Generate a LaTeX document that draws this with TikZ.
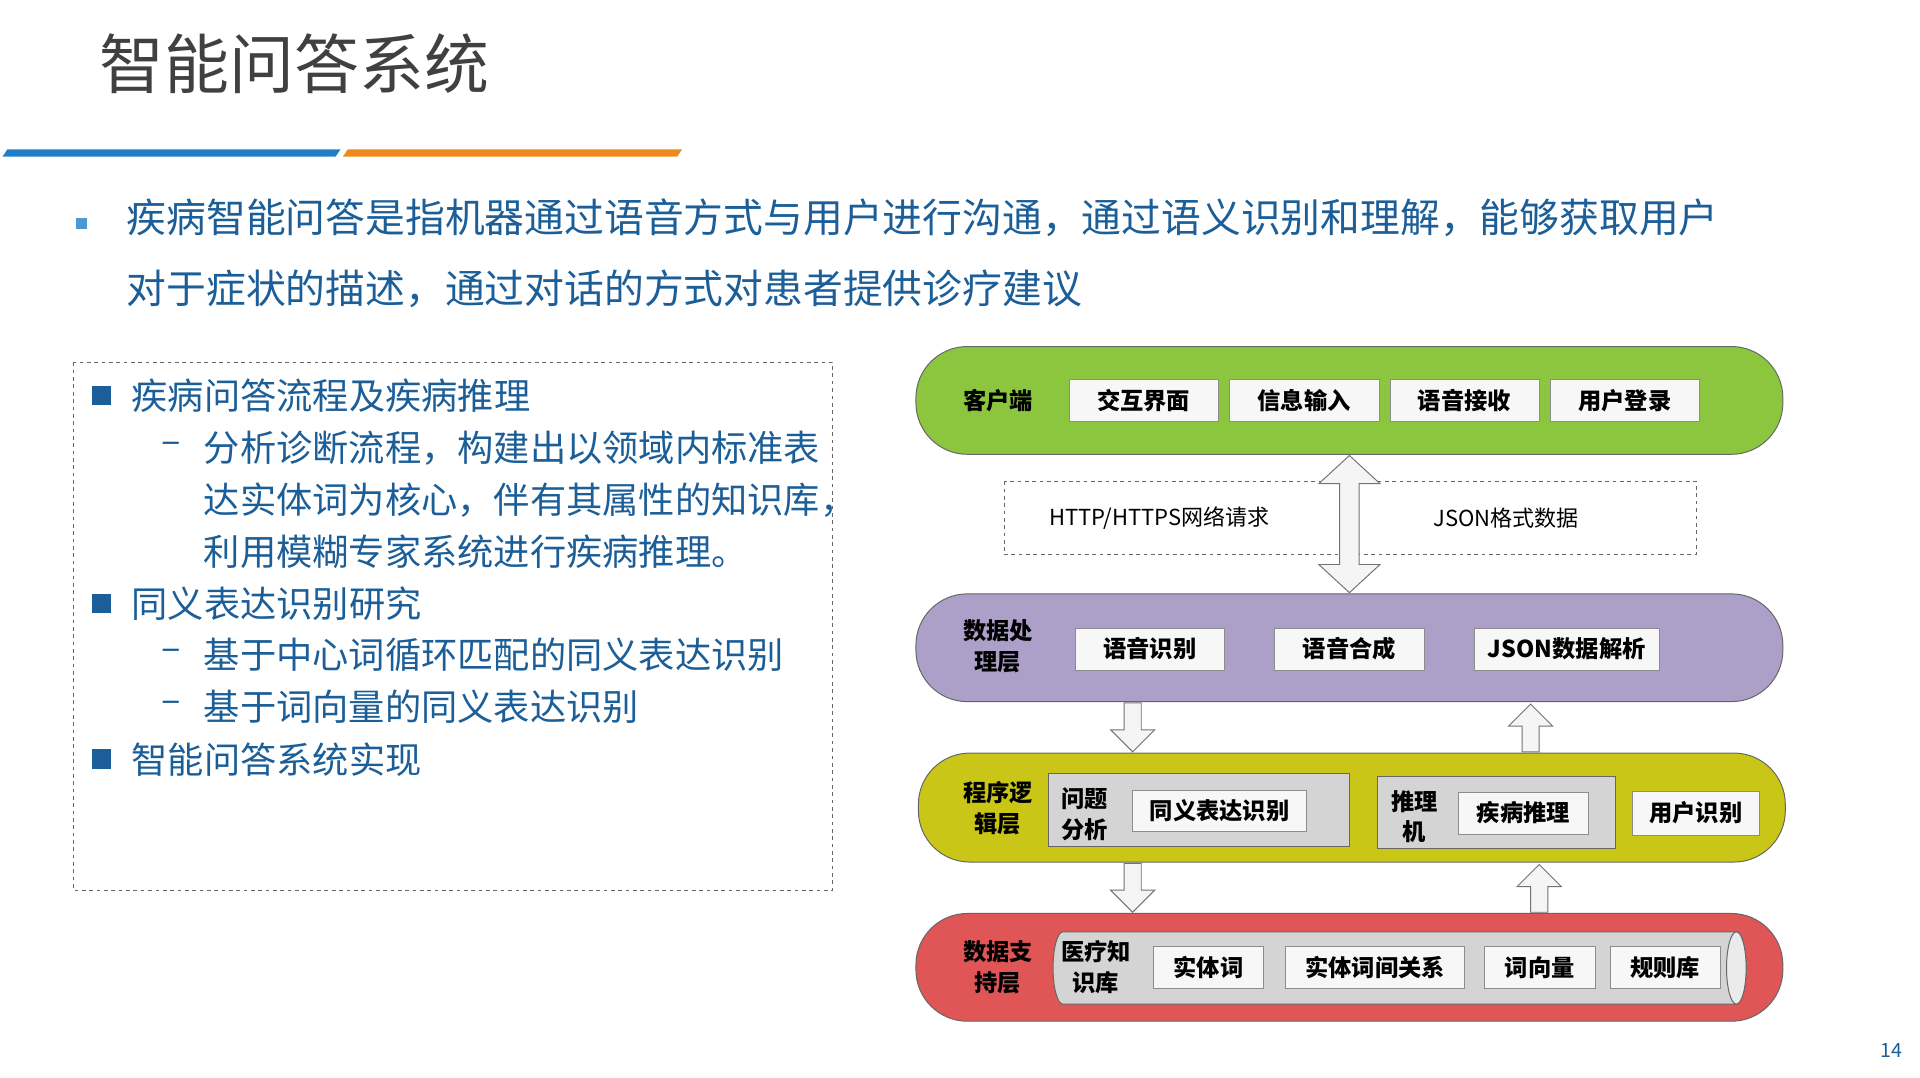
\documentclass[tikz,border=0pt]{standalone}
\usepackage{fontspec}
\setmainfont{Noto Sans CJK SC}
\newfontfamily\cjk{Noto Sans CJK SC}
\usetikzlibrary{shapes.geometric,shapes.arrows}
\definecolor{tblue}{HTML}{1B5E98}
\definecolor{bar1}{HTML}{1E7FC8}
\definecolor{bar2}{HTML}{EE8A1C}
\definecolor{lgreen}{HTML}{8CC63F}
\definecolor{lpurp}{HTML}{ACA0C8}
\definecolor{lyel}{HTML}{C9C617}
\definecolor{lred}{HTML}{E05555}
\tikzset{
 layer/.style={draw=black!60,rounded corners=42pt,line width=0.8pt},
 wbox/.style={draw=black!45,fill=black!3,minimum height=34pt,font=\fontsize{19}{19}\selectfont\bfseries,inner sep=0pt},
 gbox/.style={draw=black!60,fill=black!17,line width=0.8pt},
 lab/.style={font=\fontsize{19}{25}\selectfont\bfseries,align=center},
 body/.style={anchor=west,text=tblue,font=\fontsize{32.5}{32.5}\selectfont},
 item/.style={anchor=west,text=tblue,font=\fontsize{29.6}{29.6}\selectfont},
 arr/.style={draw=black!55,fill=black!4,line width=0.8pt},
}
\begin{document}
\begin{tikzpicture}[x=1pt,y=-1pt]
\useasboundingbox (0,0) rectangle (1568,880);
\fill[white] (0,0) rectangle (1568,880);
\node[anchor=west,text=black!75,font=\fontsize{53}{53}\selectfont] (title) at (78,52) {智能问答系统};
\fill[bar1] (2,128) -- (6,122) -- (278,122) -- (274,128) -- cycle;
\fill[bar2] (280,128) -- (284,122) -- (557,122) -- (553,128) -- cycle;
\fill[bar1!80] (62,178) rectangle (71,187);
\node[body] (l1) at (100,178) {疾病智能问答是指机器通过语音方式与用户进行沟通，通过语义识别和理解，能够获取用户};
\node[body] (l2) at (100,236) {对于症状的描述，通过对话的方式对患者提供诊疗建议};
% left dashed box
\draw[black!60,dashed,line width=0.8pt] (60,296) rectangle (680,727);
\foreach \y/\t in {323/疾病问答流程及疾病推理,493/同义表达识别研究,620/智能问答系统实现}{
 \fill[tblue] (75,\y-8) rectangle (91,\y+8);
 \node[item] at (104,\y) {\t};}
\foreach \y/\t in {366/分析诊断流程，构建出以领域内标准表,535/基于中心词循环匹配的同义表达识别,577/基于词向量的同义表达识别}{
 \node[item] at (128,\y) {–};
 \node[item] at (163,\y) {\t};}
\node[item] at (163,408) {达实体词为核心，伴有其属性的知识库，};
\node[item] at (163,451) {利用模糊专家系统进行疾病推理。};
% layer 1
\draw[layer,fill=lgreen] (748,283) rectangle (1456,371);
\node[lab] (c) at (815,327) {客户端};
\foreach \a/\b/\t in {873/995/交互界面,1004/1126/信息输入,1135/1257/语音接收,1266/1388/用户登录}
 \node[wbox,minimum width=\b pt-\a pt] at ({(\a+\b)/2},327) {\t};
\draw[black!60,dashed,line width=0.7pt] (820,393) rectangle (1385,453);
\node[font=\fontsize{18}{18}\selectfont] (h) at (947,423) {HTTP/HTTPS网络请求};
\node[font=\fontsize{18}{18}\selectfont] (j) at (1230,423) {JSON格式数据};
\draw[arr] (1102,372) -- (1127,395) -- (1110,395) -- (1110,461) -- (1127,461) -- (1102,484) -- (1077,461) -- (1094,461) -- (1094,395) -- (1077,395) -- cycle;
% layer 2
\draw[layer,fill=lpurp] (748,485) rectangle (1456,573);
\node[lab] at (815,528) {数据处\\理层};
\foreach \a/\b/\t in {878/1000/语音识别,1041/1163/语音合成,1204/1355/JSON数据解析}
 \node[wbox,minimum width=\b pt-\a pt] at ({(\a+\b)/2},530) {\t};
\draw[arr] (918,574) -- (932,574) -- (932,596) -- (943,596) -- (925,614) -- (907,596) -- (918,596) -- cycle;
\draw[arr] (1243,614) -- (1257,614) -- (1257,593) -- (1268,593) -- (1250,575) -- (1232,593) -- (1243,593) -- cycle;
% layer 3
\draw[layer,fill=lyel] (750,615) rectangle (1458,704);
\node[lab] at (815,660) {程序逻\\辑层};
\draw[gbox] (856,632) rectangle (1102,691);
\node[lab] at (886,665) {问题\\分析};
\node[wbox,minimum width=142pt] at (996,662) {同义表达识别};
\draw[gbox] (1125,634) rectangle (1319,693);
\node[lab] at (1155,667) {推理\\机};
\node[wbox,minimum width=106pt] at (1244,664) {疾病推理};
\node[wbox,minimum width=104pt,minimum height=36pt] at (1385,664) {用户识别};
\draw[arr] (918,705) -- (932,705) -- (932,727) -- (943,727) -- (925,745) -- (907,727) -- (918,727) -- cycle;
\draw[arr] (1250,745) -- (1264,745) -- (1264,724) -- (1275,724) -- (1257,706) -- (1239,724) -- (1250,724) -- cycle;
% layer 4
\draw[layer,fill=lred] (748,746) rectangle (1456,834);
\node[lab] at (815,790) {数据支\\持层};
\draw[gbox] (868,761) -- (1418,761) arc[start angle=-90,end angle=90,x radius=8,y radius=29.5] -- (868,820) arc[start angle=90,end angle=270,x radius=8,y radius=29.5] -- cycle;
\draw[black!60,fill=black!8,line width=0.8pt] (1418,790.5) ellipse[x radius=8,y radius=29.5];
\node[lab] at (895,790) {医疗知\\识库};
\foreach \a/\b/\t in {942/1032/实体词,1050/1196/实体词间关系,1212/1303/词向量,1315/1405/规则库}
 \node[wbox,minimum width=\b pt-\a pt] at ({(\a+\b)/2},790) {\t};
\node[text=tblue,font=\fontsize{16}{16}\selectfont] (pg) at (1545,858) {14};
\end{tikzpicture}
\end{document}
